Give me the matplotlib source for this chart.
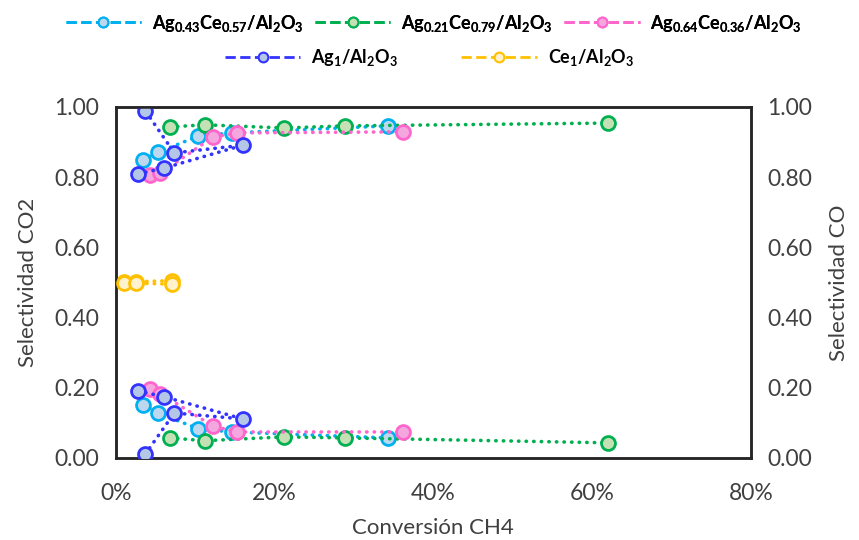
import matplotlib
matplotlib.use('Agg')
from matplotlib import pyplot as plt
from matplotlib.lines import Line2D
from matplotlib.ticker import FuncFormatter

plt.rcParams['font.family'] = ['Lato', 'DejaVu Sans']
plt.rcParams['mathtext.fontset'] = 'custom'
plt.rcParams['mathtext.rm'] = 'Lato:bold'
plt.rcParams['mathtext.it'] = 'Lato:bold'
plt.rcParams['mathtext.bf'] = 'Lato:bold'

# conversion CH4 (fraction) and selectivities
names = [r'Ag$_{0.43}$Ce$_{0.57}$/Al$_2$O$_3$',
         r'Ag$_{0.21}$Ce$_{0.79}$/Al$_2$O$_3$',
         r'Ag$_{0.64}$Ce$_{0.36}$/Al$_2$O$_3$',
         r'Ag$_1$/Al$_2$O$_3$',
         r'Ce$_1$/Al$_2$O$_3$']

conv_a = [0.034, 0.053, 0.104, 0.146, 0.343]
co2_a = [0.849, 0.871, 0.917, 0.926, 0.946]
co_a = [0.151, 0.128, 0.083, 0.074, 0.057]

conv_b = [0.068, 0.112, 0.212, 0.289, 0.620]
co2_b = [0.943, 0.949, 0.940, 0.946, 0.954]
co_b = [0.057, 0.049, 0.060, 0.057, 0.043]

conv_c = [0.043, 0.056, 0.122, 0.152, 0.362]
co2_c = [0.806, 0.811, 0.914, 0.926, 0.929]
co_c = [0.197, 0.183, 0.091, 0.074, 0.074]

conv_d = [0.028, 0.061, 0.160, 0.0735, 0.037]
co2_d = [0.809, 0.826, 0.891, 0.869, 0.989]
co_d = [0.191, 0.174, 0.111, 0.128, 0.011]

conv_e = [0.010, 0.025, 0.070]
co2_e = [0.502, 0.502, 0.505]
co_e = [0.498, 0.498, 0.495]

edges = ['#00B0F0', '#00B050', '#FF66CC', '#3333FF', '#FFC000']
faces = ['#BDD7EE', '#C5E0B4', '#F4A6DF', '#B4C7E7', '#FFF2CC']

series = [(conv_a, co2_a, co_a), (conv_b, co2_b, co_b), (conv_c, co2_c, co_c),
          (conv_d, co2_d, co_d), (conv_e, co2_e, co_e)]

fig = plt.figure(figsize=(8.59, 5.40), dpi=100)
ax = fig.add_axes([0.135, 0.152, 0.739, 0.650])
ax2 = ax.twinx()

for i, (x, y1, y2) in enumerate(series):
    for axis, y in ((ax, y1), (ax2, y2)):
        axis.plot(x, y, color=edges[i], linestyle=(0, (0.1, 2.0)), linewidth=2.6,
                  dash_capstyle='round', marker='o', markersize=10,
                  markerfacecolor=faces[i], markeredgecolor=edges[i],
                  markeredgewidth=2, zorder=3)

ax.set_xlim(0, 0.8)
ax.set_ylim(0, 1)
ax2.set_ylim(0, 1)
ax.set_xticks([0, 0.2, 0.4, 0.6, 0.8])
ax.set_yticks([0, 0.2, 0.4, 0.6, 0.8, 1.0])
ax2.set_yticks([0, 0.2, 0.4, 0.6, 0.8, 1.0])
ax.xaxis.set_major_formatter(FuncFormatter(lambda v, p: '%d%%' % round(v * 100)))
ax.yaxis.set_major_formatter(FuncFormatter(lambda v, p: '%.2f' % v))
ax2.yaxis.set_major_formatter(FuncFormatter(lambda v, p: '%.2f' % v))

for a in (ax, ax2):
    a.tick_params(length=0, labelsize=16.5, colors='#404040', pad=12)
    for s in a.spines.values():
        s.set_linewidth(1.8)
        s.set_color('#262626')
ax.tick_params(axis='x', pad=18)

ax.set_xlabel('Conversión CH4', fontsize=16, color='#404040', labelpad=10)
ax.set_ylabel('Selectividad CO2', fontsize=16, color='#404040', labelpad=12)
ax2.set_ylabel('Selectividad CO', fontsize=16, color='#404040', labelpad=12)

handles = []
for i in range(5):
    handles.append(Line2D([], [], color=edges[i], linestyle='--', linewidth=2,
                          marker='o', markersize=7, markerfacecolor=faces[i],
                          markeredgecolor=edges[i], markeredgewidth=1.5))

leg1 = fig.legend(handles[:3], names[:3], loc='center', bbox_to_anchor=(0.505, 0.957),
                  ncol=3, frameon=False, handlelength=4.2,
                  columnspacing=0.6, handletextpad=0.6,
                  prop={'size': 13, 'weight': 'bold'})
fig.add_artist(leg1)
fig.legend(handles[3:], names[3:], loc='center', bbox_to_anchor=(0.5, 0.893),
           ncol=2, frameon=False, handlelength=4.2,
           columnspacing=3.5, handletextpad=0.6,
           prop={'size': 13, 'weight': 'bold'})

fig.savefig('out.png', dpi=100)
